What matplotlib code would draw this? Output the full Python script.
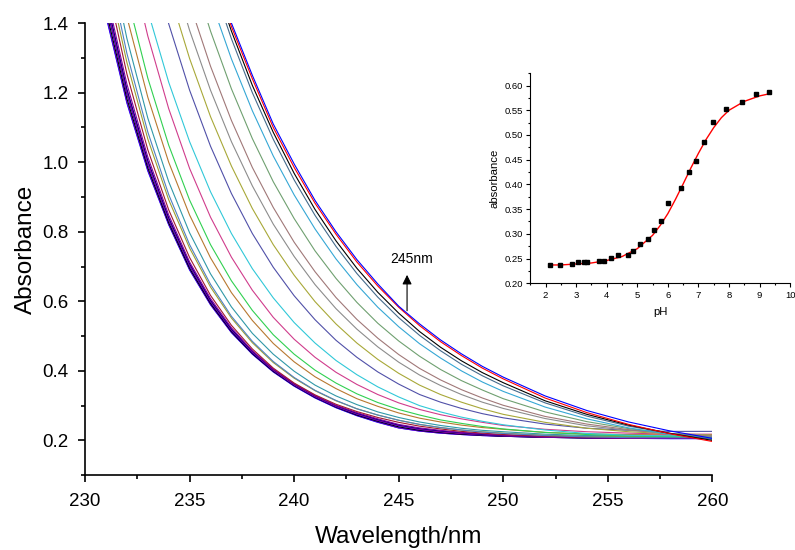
'''
UV absorbance spectra recorded along a pH titration,
with the 245 nm absorbance vs pH titration curve as an inset
'''
import numpy as np
import matplotlib
matplotlib.use('Agg')
import matplotlib.pyplot as plt
from matplotlib.ticker import MultipleLocator, FormatStrFormatter

plt.rcParams['font.family'] = ['Liberation Sans', 'DejaVu Sans']

wavelength = [231, 232, 233, 234, 235, 236, 237, 238, 239, 240, 241, 242, 243,
              244, 245, 246, 247, 248, 249, 250, 252, 254, 256, 258, 260]

# One spectrum per pH step, highest 245 nm absorbance first
spec_01 = [2.91, 2.57, 2.27, 2.01, 1.78, 1.58, 1.40, 1.25, 1.11, 0.995, 0.89, 0.80, 0.72,
           0.65, 0.586, 0.535, 0.489, 0.449, 0.413, 0.382, 0.328, 0.286, 0.253, 0.227, 0.206]
spec_02 = [2.88, 2.55, 2.25, 1.99, 1.76, 1.56, 1.39, 1.24, 1.10, 0.985, 0.882, 0.793, 0.713,
           0.644, 0.583, 0.530, 0.484, 0.444, 0.408, 0.377, 0.322, 0.280, 0.246, 0.219, 0.197]
spec_03 = [2.86, 2.53, 2.24, 1.98, 1.757, 1.554, 1.377, 1.221, 1.086, 0.968, 0.864, 0.774, 0.695,
           0.626, 0.566, 0.513, 0.468, 0.429, 0.395, 0.366, 0.314, 0.275, 0.244, 0.220, 0.200]
spec_04 = [2.84, 2.51, 2.22, 1.96, 1.734, 1.531, 1.355, 1.200, 1.066, 0.949, 0.847, 0.758, 0.680,
           0.612, 0.553, 0.502, 0.458, 0.419, 0.386, 0.357, 0.308, 0.270, 0.241, 0.220, 0.203]
spec_05 = [2.79, 2.45, 2.15, 1.89, 1.665, 1.468, 1.297, 1.148, 1.018, 0.906, 0.808, 0.722, 0.648,
           0.583, 0.527, 0.478, 0.437, 0.400, 0.368, 0.341, 0.296, 0.262, 0.236, 0.217, 0.205]
spec_06 = [2.69, 2.35, 2.05, 1.79, 1.568, 1.377, 1.211, 1.068, 0.944, 0.838, 0.745, 0.666, 0.597,
           0.537, 0.486, 0.442, 0.404, 0.372, 0.345, 0.320, 0.282, 0.254, 0.234, 0.219, 0.208]
spec_07 = [2.53, 2.20, 1.914, 1.669, 1.457, 1.276, 1.120, 0.985, 0.870, 0.770, 0.685, 0.611, 0.548,
           0.494, 0.447, 0.407, 0.374, 0.346, 0.322, 0.301, 0.269, 0.247, 0.231, 0.219, 0.212]
spec_08 = [2.405, 2.087, 1.815, 1.580, 1.379, 1.207, 1.059, 0.932, 0.822, 0.729, 0.648, 0.579, 0.520,
           0.469, 0.425, 0.388, 0.358, 0.332, 0.310, 0.292, 0.263, 0.242, 0.229, 0.220, 0.214]
spec_09 = [2.307, 1.992, 1.723, 1.494, 1.298, 1.131, 0.989, 0.867, 0.763, 0.675, 0.599, 0.535, 0.480,
           0.433, 0.393, 0.359, 0.332, 0.310, 0.291, 0.275, 0.252, 0.235, 0.225, 0.219, 0.216]
spec_10 = [2.207, 1.891, 1.624, 1.398, 1.207, 1.046, 0.910, 0.795, 0.698, 0.616, 0.547, 0.488, 0.439,
           0.397, 0.362, 0.332, 0.310, 0.292, 0.277, 0.265, 0.247, 0.235, 0.229, 0.226, 0.226]
spec_11 = [1.97, 1.68, 1.435, 1.23, 1.059, 0.915, 0.795, 0.694, 0.610, 0.539, 0.480, 0.430, 0.389,
           0.354, 0.325, 0.300, 0.282, 0.267, 0.255, 0.245, 0.230, 0.220, 0.215, 0.213, 0.212]
spec_12 = [1.927, 1.617, 1.363, 1.154, 0.982, 0.842, 0.727, 0.632, 0.554, 0.491, 0.439, 0.396, 0.361,
           0.332, 0.308, 0.289, 0.274, 0.262, 0.252, 0.243, 0.232, 0.225, 0.221, 0.218, 0.218]
spec_13 = [1.77, 1.479, 1.242, 1.049, 0.891, 0.763, 0.659, 0.574, 0.504, 0.448, 0.402, 0.365, 0.334,
           0.309, 0.289, 0.273, 0.259, 0.249, 0.240, 0.233, 0.223, 0.217, 0.213, 0.211, 0.210]
spec_14 = [1.703, 1.418, 1.187, 1.000, 0.848, 0.725, 0.625, 0.545, 0.479, 0.426, 0.383, 0.349, 0.320,
           0.298, 0.279, 0.264, 0.253, 0.244, 0.237, 0.232, 0.223, 0.219, 0.217, 0.216, 0.216]
spec_15 = [1.641, 1.356, 1.127, 0.944, 0.797, 0.679, 0.584, 0.508, 0.448, 0.399, 0.359, 0.328, 0.303,
           0.282, 0.266, 0.253, 0.243, 0.235, 0.229, 0.225, 0.218, 0.214, 0.213, 0.212, 0.212]
spec_16 = [1.597, 1.313, 1.087, 0.907, 0.763, 0.649, 0.557, 0.485, 0.427, 0.381, 0.344, 0.315, 0.291,
           0.273, 0.258, 0.246, 0.237, 0.230, 0.224, 0.220, 0.214, 0.210, 0.208, 0.208, 0.208]
spec_17 = [1.561, 1.287, 1.067, 0.892, 0.753, 0.641, 0.552, 0.481, 0.424, 0.379, 0.343, 0.314, 0.291,
           0.273, 0.258, 0.246, 0.237, 0.230, 0.225, 0.221, 0.215, 0.212, 0.211, 0.213, 0.214]
spec_18 = [1.529, 1.254, 1.036, 0.863, 0.726, 0.617, 0.531, 0.463, 0.408, 0.365, 0.331, 0.304, 0.283,
           0.266, 0.252, 0.241, 0.233, 0.226, 0.221, 0.217, 0.212, 0.209, 0.208, 0.209, 0.210]
spec_19 = [1.49, 1.225, 1.015, 0.848, 0.713, 0.608, 0.524, 0.458, 0.405, 0.363, 0.329, 0.301, 0.280,
           0.262, 0.246, 0.236, 0.229, 0.223, 0.219, 0.215, 0.211, 0.209, 0.208, 0.208, 0.208]
spec_20 = [1.475, 1.21, 1.005, 0.840, 0.708, 0.603, 0.520, 0.456, 0.404, 0.362, 0.328, 0.300, 0.278,
           0.260, 0.244, 0.234, 0.227, 0.222, 0.217, 0.214, 0.211, 0.209, 0.208, 0.209, 0.210]
spec_21 = [1.47, 1.208, 1.000, 0.838, 0.706, 0.602, 0.519, 0.455, 0.403, 0.361, 0.327, 0.299, 0.277,
           0.259, 0.243, 0.233, 0.226, 0.221, 0.217, 0.214, 0.210, 0.208, 0.207, 0.207, 0.207]
spec_22 = [1.46, 1.200, 0.998, 0.836, 0.704, 0.600, 0.518, 0.454, 0.402, 0.360, 0.326, 0.298, 0.276,
           0.258, 0.243, 0.232, 0.225, 0.220, 0.216, 0.213, 0.210, 0.208, 0.207, 0.209, 0.211]
spec_23 = [1.453, 1.195, 0.993, 0.833, 0.701, 0.598, 0.516, 0.452, 0.401, 0.359, 0.325, 0.297, 0.275,
           0.257, 0.242, 0.231, 0.225, 0.220, 0.216, 0.213, 0.210, 0.208, 0.207, 0.206, 0.206]
spec_24 = [1.437, 1.183, 0.984, 0.826, 0.695, 0.594, 0.513, 0.450, 0.399, 0.358, 0.324, 0.296, 0.273,
           0.255, 0.239, 0.229, 0.223, 0.218, 0.215, 0.212, 0.209, 0.207, 0.206, 0.207, 0.209]
spec_25 = [1.425, 1.174, 0.978, 0.822, 0.692, 0.591, 0.511, 0.449, 0.398, 0.357, 0.323, 0.295, 0.272,
           0.253, 0.236, 0.227, 0.221, 0.217, 0.214, 0.212, 0.209, 0.207, 0.206, 0.206, 0.207]
spec_26 = [1.42, 1.17, 0.975, 0.820, 0.690, 0.590, 0.510, 0.448, 0.397, 0.356, 0.322, 0.294, 0.271,
           0.252, 0.236, 0.227, 0.221, 0.217, 0.214, 0.212, 0.209, 0.207, 0.206, 0.205, 0.205]

line_colors = ['#0000FF', '#FF0000', '#000000', '#456B8C', '#35A7D5', '#6FA070',
               '#A07878', '#8C8C8C', '#A8A838', '#5050A8', '#30C8D8', '#D03C8C',
               '#30D050', '#B87830', '#3098A8', '#5080C0', '#A0A030', '#A01830',
               '#8000A0', '#000080', '#C000C0', '#800080', '#0000C0', '#000000',
               '#6A00D0', '#0000FF']

# Inset: absorbance at 245 nm against pH, plus the sigmoidal fit
ph = [2.13, 2.46, 2.86, 3.07, 3.25, 3.37, 3.75, 3.90, 4.13, 4.37, 4.68, 4.86, 5.10,
      5.36, 5.53, 5.77, 6.01, 6.43, 6.69, 6.93, 7.19, 7.46, 7.91, 8.42, 8.89, 9.31]
abs_245 = [0.236, 0.236, 0.239, 0.242, 0.243, 0.243, 0.244, 0.246, 0.252, 0.258,
           0.258, 0.266, 0.279, 0.289, 0.308, 0.325, 0.362, 0.393, 0.425, 0.447,
           0.486, 0.527, 0.553, 0.566, 0.583, 0.586]
fit_ph = [2.15, 2.5, 3.0, 3.5, 4.0, 4.5, 5.0, 5.5, 5.75, 6.0, 6.25, 6.5, 6.75,
          7.0, 7.25, 7.5, 7.75, 8.0, 8.5, 9.0, 9.3]
fit_abs = [0.237, 0.237, 0.239, 0.241, 0.246, 0.254, 0.270, 0.297, 0.317, 0.341,
           0.370, 0.401, 0.433, 0.463, 0.491, 0.515, 0.535, 0.550, 0.568, 0.579, 0.583]


def style_axes(ax, lw, size, major, minor, pad):
    '''
    Origin-like look: only left and bottom spines, ticks pointing out
    '''
    ax.spines['top'].set_visible(False)
    ax.spines['right'].set_visible(False)
    ax.spines['left'].set_linewidth(lw)
    ax.spines['bottom'].set_linewidth(lw)
    ax.tick_params(which='major', direction='out', length=major, width=lw,
                   labelsize=size, pad=pad)
    ax.tick_params(which='minor', direction='out', length=minor, width=lw)


def plot_spectra(ax, spectra):
    '''
    Parameters
    ----------
    ax:         main axes
    spectra:    list of absorbance lists, one per pH step
    '''
    for spec, col in reversed(list(zip(spectra, line_colors))):
        ax.plot(wavelength, spec, color=col, lw=0.8)

    ax.set_xlim(230, 260)
    ax.set_ylim(0.1, 1.4)
    ax.xaxis.set_major_locator(MultipleLocator(5))
    ax.xaxis.set_minor_locator(MultipleLocator(2.5))
    ax.yaxis.set_minor_locator(MultipleLocator(0.1))
    ax.yaxis.set_major_formatter(FormatStrFormatter('%.1f'))
    ax.set_yticks(np.arange(0.2, 1.41, 0.2))
    style_axes(ax, 1.2, 13.5, 5, 3, 7)
    ax.tick_params(axis='x', which='major', pad=8)
    ax.set_xlabel('Wavelength/nm', fontsize=17.5, labelpad=11)
    ax.set_ylabel('Absorbance', fontsize=17.5, labelpad=4)

    # Mark the wavelength used for the titration curve
    ax.annotate('', xy=(245.4, 0.684), xytext=(245.4, 0.565),
                arrowprops=dict(arrowstyle='-|>', lw=0.8, color='k',
                                mutation_scale=14))
    ax.text(245.6, 0.721, '245nm', fontsize=10, ha='center', va='center')


def plot_inset(ax):
    ax.plot(fit_ph, fit_abs, color='red', lw=1.0, zorder=2)
    ax.plot(ph, abs_245, 's', color='black', ms=3.2, zorder=3)

    ax.set_xlim(1.5, 10)
    ax.set_ylim(0.2, 0.625)
    ax.xaxis.set_minor_locator(MultipleLocator(0.5))
    ax.yaxis.set_major_locator(MultipleLocator(0.05))
    ax.yaxis.set_minor_locator(MultipleLocator(0.025))
    ax.yaxis.set_major_formatter(FormatStrFormatter('%.2f'))
    ax.set_xticks(np.arange(2, 11, 1))
    style_axes(ax, 0.8, 6.8, 3, 1.5, 2.5)
    ax.set_xlabel('pH', fontsize=8.2, labelpad=5)
    ax.set_ylabel('absorbance', fontsize=8.2, labelpad=3)


def main():
    spectra = [spec_01, spec_02, spec_03, spec_04, spec_05, spec_06, spec_07,
               spec_08, spec_09, spec_10, spec_11, spec_12, spec_13, spec_14,
               spec_15, spec_16, spec_17, spec_18, spec_19, spec_20, spec_21,
               spec_22, spec_23, spec_24, spec_25, spec_26]

    fig = plt.figure(figsize=(7.95, 5.5), dpi=100)
    ax = fig.add_axes([0.107, 0.136, 0.789, 0.822])
    plot_spectra(ax, spectra)

    inset = fig.add_axes([0.667, 0.485, 0.327, 0.382])
    plot_inset(inset)

    plt.savefig('out.png', dpi=100)


if __name__ == '__main__':
    main()
